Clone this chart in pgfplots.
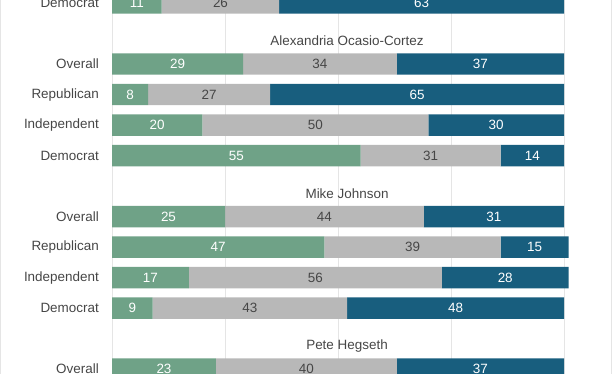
\documentclass[border=0pt]{standalone}
\usepackage{pgfplots}
\pgfplotsset{compat=1.18}
\usepackage{pgfplotstable}
\usepackage{fontspec}
\setmainfont{Liberation Sans}
\definecolor{cgreen}{RGB}{111,162,135}
\definecolor{cgray}{RGB}{184,184,184}
\definecolor{cblue}{RGB}{24,94,126}
\definecolor{ctext}{RGB}{70,70,70}
\definecolor{cgrid}{RGB}{229,229,229}
\pgfplotstableread{
row fav neu unf
0 11 26 63
2 29 34 37
3 8 27 65
4 20 50 30
5 55 31 14
7 25 44 31
8 47 39 15
9 17 56 28
10 9 43 48
12 23 40 37
}\data
\begin{document}
\begin{tikzpicture}
\begin{axis}[
  at={(112bp,0bp)}, anchor=south west,
  scale only axis, width=456.52bp, height=374bp,
  xbar stacked, bar width=0.7,
  xmin=0, xmax=101, ymin=-0.1, ymax=12.16, y dir=reverse,
  axis line style={draw=none},
  xtick={0,25,50,75,100}, xticklabels={}, xmajorgrids, grid style={cgrid, line width=1bp},
  ytick={0,2,3,4,5,7,8,9,10,12},
  yticklabels={Democrat,Overall,Republican,Independent,Democrat,Overall,Republican,Independent,Democrat,Overall},
  major tick length=0pt,
  yticklabel style={font=\fontsize{13.5}{16}\selectfont, text=ctext, inner sep=0pt, xshift=-13bp},
  point meta=explicit symbolic,
  nodes near coords,
  every node near coord/.style={anchor=center, font=\fontsize{13.5}{16}\selectfont},
]
\addplot[fill=cgreen, draw=none, every node near coord/.append style={text=white}]
  table[x=fav, y=row, meta=fav]{\data};
\addplot[fill=cgray, draw=none, every node near coord/.append style={text=ctext}]
  table[x=neu, y=row, meta=neu]{\data};
\addplot[fill=cblue, draw=none, every node near coord/.append style={text=white}]
  table[x=unf, y=row, meta=unf]{\data};
\node[text=ctext, font=\fontsize{13.5}{16}\selectfont] at (axis cs:52,1.25) {Alexandria Ocasio-Cortez};
\node[text=ctext, font=\fontsize{13.5}{16}\selectfont] at (axis cs:52,6.25) {Mike Johnson};
\node[text=ctext, font=\fontsize{13.5}{16}\selectfont] at (axis cs:52,11.25) {Pete Hegseth};
\end{axis}
\draw[cgrid, line width=1bp] (0.5bp,0) -- (0.5bp,374bp);
\draw[cgrid, line width=1bp] (611bp,0) -- (611bp,374bp);
\pgfresetboundingbox
\path[use as bounding box] (0,0) rectangle (612bp,374bp);
\end{tikzpicture}
\end{document}
